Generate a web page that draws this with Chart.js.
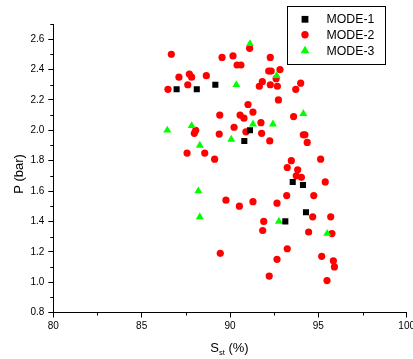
<!DOCTYPE html>
<html>
<head>
<meta charset="UTF-8">
<title>P vs Sst</title>
<script src="https://cdn.jsdelivr.net/npm/chart.js"></script>
<style>
  body { margin: 0; background: #fff; overflow: hidden; }
  canvas { display: block; }
</style>
</head>
<body>
<canvas id="chart" width="413" height="359"></canvas>
<script>
  // values
  const seriesNames = ['MODE-1', 'MODE-2', 'MODE-3'];

  const mode1X = [86.98, 88.12, 89.17, 90.81, 91.13, 93.13, 93.55, 94.13, 94.30];
  const mode1Y = [2.27, 2.27, 2.30, 1.93, 2.00, 1.40, 1.66, 1.64, 1.46];

  const mode2X = [86.68, 89.55, 90.17, 90.40, 90.62, 91.11, 87.11, 87.70, 87.83, 88.66,
                  87.61, 86.49, 91.66, 91.83, 91.02, 91.30, 89.42, 90.57, 90.79, 91.75,
                  90.23, 88.06, 87.98, 89.39, 90.90, 91.79, 87.57, 88.57, 89.13, 92.28,
                  92.19, 92.33, 92.83, 92.61, 92.28, 92.68, 94.00, 93.72, 92.74, 93.60,
                  94.15, 94.24, 94.37, 92.25, 93.47, 95.13, 93.24, 93.83, 93.75, 94.04,
                  95.39, 91.30, 93.21, 92.66, 94.74, 91.91, 91.85, 94.68, 95.70, 94.45,
                  95.77, 93.24, 92.66, 95.19, 95.85, 95.91, 92.22, 95.49, 89.77, 90.53,
                  89.45];
  const mode2Y = [2.50, 2.48, 2.49, 2.43, 2.43, 2.54, 2.35, 2.37, 2.35, 2.36,
                  2.30, 2.27, 2.29, 2.32, 2.17, 2.12, 2.10, 2.10, 2.08, 2.05,
                  2.02, 2.00, 1.98, 1.975, 1.99, 1.98, 1.85, 1.85, 1.81, 2.48,
                  2.39, 2.39, 2.40, 2.34, 2.30, 2.29, 2.31, 2.27, 2.20, 2.09,
                  1.97, 1.97, 1.92, 1.93, 1.80, 1.81, 1.755, 1.74, 1.70, 1.69,
                  1.66, 1.53, 1.57, 1.52, 1.57, 1.40, 1.34, 1.43, 1.43, 1.33,
                  1.32, 1.22, 1.15, 1.17, 1.14, 1.10, 1.04, 1.01, 1.54, 1.50,
                  1.19];

  const mode3X = [86.45, 87.83, 88.29, 90.07, 90.36, 91.13, 91.30, 92.43, 92.64, 94.15,
                  88.21, 88.29, 92.77, 95.50];
  const mode3Y = [2.00, 2.03, 1.90, 1.94, 2.30, 2.57, 2.04, 2.04, 2.36, 2.11,
                  1.60, 1.43, 1.40, 1.32];

  const xTicks = [80, 85, 90, 95, 100];
  const xMinorTicks = [82.5, 87.5, 92.5, 97.5];
  const yTicks = [0.8, 1.0, 1.2, 1.4, 1.6, 1.8, 2.0, 2.2, 2.4, 2.6];
  const yMinorTicks = [0.9, 1.1, 1.3, 1.5, 1.7, 1.9, 2.1, 2.3, 2.5, 2.7];

  const xTitleMain = 'S';
  const xTitleSub = 'st';
  const xTitleTail = ' (%)';
  const yTitle = 'P (bar)';

  const FONT = "'Liberation Sans', Arial, sans-serif";
  Chart.defaults.font.family = FONT;
  Chart.defaults.color = '#000';

  function pts(xs, ys) {
    return xs.map((x, i) => ({ x: x, y: ys[i] }));
  }

  function drawMarker(ctx, style, r, x, y, color) {
    ctx.fillStyle = color;
    ctx.beginPath();
    if (style === 'rect') {
      const s = r * Math.SQRT1_2;
      ctx.rect(x - s, y - s, 2 * s, 2 * s);
    } else if (style === 'triangle') {
      ctx.moveTo(x, y - r);
      ctx.lineTo(x + r * 0.866, y + r * 0.5);
      ctx.lineTo(x - r * 0.866, y + r * 0.5);
      ctx.closePath();
    } else {
      ctx.arc(x, y, r, 0, Math.PI * 2);
    }
    ctx.fill();
  }

  // minor ticks, axis titles and the boxed legend
  const extras = {
    id: 'extras',
    afterDraw(chart) {
      const ctx = chart.ctx;
      const xs = chart.scales.x, ys = chart.scales.y;
      const area = chart.chartArea;
      ctx.save();
      ctx.strokeStyle = '#000';
      ctx.lineWidth = 1;
      ctx.beginPath();
      xMinorTicks.forEach(v => {
        const px = Math.round(xs.getPixelForValue(v)) + 0.5;
        ctx.moveTo(px, area.bottom);
        ctx.lineTo(px, area.bottom + 3);
      });
      yMinorTicks.forEach(v => {
        const py = Math.round(ys.getPixelForValue(v)) + 0.5;
        ctx.moveTo(area.left, py);
        ctx.lineTo(area.left - 3, py);
      });
      ctx.stroke();

      // x title with subscript
      ctx.fillStyle = '#000';
      ctx.textBaseline = 'alphabetic';
      ctx.textAlign = 'left';
      const big = '13px ' + FONT, small = '7.5px ' + FONT;
      ctx.font = big;
      const w1 = ctx.measureText(xTitleMain).width;
      const w3 = ctx.measureText(xTitleTail).width;
      ctx.font = small;
      const w2 = ctx.measureText(xTitleSub).width;
      let tx = 229.5 - (w1 + w2 + w3) / 2;
      const base = 351.5;
      ctx.font = big;
      ctx.fillText(xTitleMain, tx, base);
      ctx.font = small;
      ctx.fillText(xTitleSub, tx + w1, base + 3.5);
      ctx.font = big;
      ctx.fillText(xTitleTail, tx + w1 + w2, base);

      // y title
      ctx.save();
      ctx.translate(19, 174);
      ctx.rotate(-Math.PI / 2);
      ctx.textAlign = 'center';
      ctx.textBaseline = 'middle';
      ctx.font = big;
      ctx.fillText(yTitle, 0, 0);
      ctx.restore();

      // legend
      ctx.strokeStyle = '#000';
      ctx.strokeRect(287.5, 6.5, 98, 58);
      ctx.font = '12.3px ' + FONT;
      ctx.textAlign = 'left';
      ctx.textBaseline = 'middle';
      const rows = [19.3, 34.8, 50.8];
      const legendSize = { rect: 4.8, circle: 3.7, triangle: 5.0 };
      chart.data.datasets.forEach((ds, i) => {
        drawMarker(ctx, ds.pointStyle, legendSize[ds.pointStyle], 305, rows[i], ds.backgroundColor);
        ctx.fillStyle = '#000';
        ctx.fillText(ds.label, 326.5, rows[i] + 0.5);
      });
      ctx.restore();
    }
  };

  new Chart(document.getElementById('chart'), {
    type: 'scatter',
    data: {
      datasets: [
        { label: seriesNames[0], data: pts(mode1X, mode1Y), pointStyle: 'rect',
          backgroundColor: '#000000', borderColor: '#000000', pointRadius: 4.3, borderWidth: 0, order: 0 },
        { label: seriesNames[1], data: pts(mode2X, mode2Y), pointStyle: 'circle',
          backgroundColor: '#ff0000', borderColor: '#ff0000', pointRadius: 3.6, borderWidth: 0, order: 2 },
        { label: seriesNames[2], data: pts(mode3X, mode3Y), pointStyle: 'triangle',
          backgroundColor: '#00ff00', borderColor: '#00ff00', pointRadius: 4.6, borderWidth: 0, order: 1 }
      ]
    },
    options: {
      responsive: false,
      animation: false,
      layout: { padding: { top: 24, right: 6.3, bottom: 0, left: 0 } },
      plugins: { legend: { display: false }, tooltip: { enabled: false } },
      scales: {
        x: {
          type: 'linear', min: 80, max: 100,
          afterBuildTicks: s => { s.ticks = xTicks.map(v => ({ value: v })); },
          afterFit: s => { s.height = 46.5; s.paddingRight = 0; s.paddingLeft = 0; },
          ticks: { font: { size: 10 }, padding: 3, maxRotation: 0, autoSkip: false },
          grid: { drawOnChartArea: false, drawTicks: true, tickLength: 5, color: '#000' },
          border: { display: true, color: '#000', width: 1 }
        },
        y: {
          type: 'linear', min: 0.8, max: 2.7,
          afterBuildTicks: s => { s.ticks = yTicks.map(v => ({ value: v })); },
          afterFit: s => { s.width = 53.3; },
          ticks: { font: { size: 10 }, padding: 4, autoSkip: false, callback: v => Number(v).toFixed(1) },
          grid: { drawOnChartArea: false, drawTicks: true, tickLength: 5, color: '#000' },
          border: { display: true, color: '#000', width: 1 }
        }
      }
    },
    plugins: [extras]
  });
</script>
</body>
</html>
